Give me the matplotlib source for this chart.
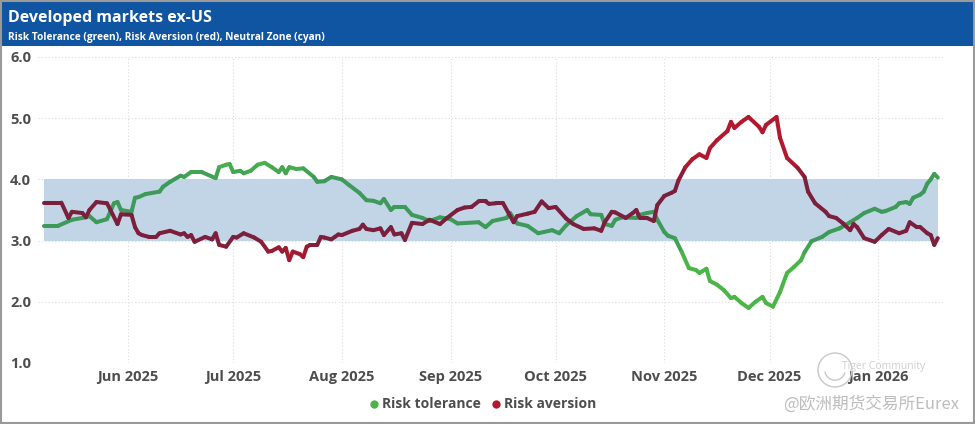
import numpy as np
import pandas as pd
import matplotlib
matplotlib.use("Agg")
import matplotlib.pyplot as plt
import matplotlib.dates as mdates
from matplotlib.collections import LineCollection
from matplotlib.lines import Line2D
from matplotlib.patches import Rectangle, Ellipse, Arc

plt.rcParams['font.family'] = ['Open Sans', 'DejaVu Sans']

# --- data ---
tol_dates = [
    "2025-05-08", "2025-05-12", "2025-05-16", "2025-05-19", "2025-05-21", "2025-05-23",
    "2025-05-26", "2025-05-28", "2025-05-29", "2025-05-30", "2025-06-02", "2025-06-03",
    "2025-06-04", "2025-06-06", "2025-06-10", "2025-06-11", "2025-06-13", "2025-06-16",
    "2025-06-17", "2025-06-19", "2025-06-22", "2025-06-26", "2025-06-27", "2025-06-29",
    "2025-06-30", "2025-07-01", "2025-07-03", "2025-07-04", "2025-07-06", "2025-07-08",
    "2025-07-10", "2025-07-12", "2025-07-14", "2025-07-15", "2025-07-16", "2025-07-17",
    "2025-07-19", "2025-07-21", "2025-07-24", "2025-07-25", "2025-07-27", "2025-07-29",
    "2025-08-01", "2025-08-03", "2025-08-06", "2025-08-08", "2025-08-10", "2025-08-12",
    "2025-08-13", "2025-08-15", "2025-08-16", "2025-08-19", "2025-08-21", "2025-08-24",
    "2025-08-26", "2025-08-29", "2025-09-01", "2025-09-03", "2025-09-09", "2025-09-11",
    "2025-09-13", "2025-09-17", "2025-09-18", "2025-09-20", "2025-09-23", "2025-09-26",
    "2025-09-30", "2025-10-02", "2025-10-04", "2025-10-07", "2025-10-10", "2025-10-11",
    "2025-10-14", "2025-10-15", "2025-10-17", "2025-10-18", "2025-10-20", "2025-10-24",
    "2025-10-25", "2025-10-27", "2025-10-29", "2025-10-30", "2025-11-01", "2025-11-02",
    "2025-11-04", "2025-11-06", "2025-11-08", "2025-11-10", "2025-11-11", "2025-11-13",
    "2025-11-14", "2025-11-16", "2025-11-18", "2025-11-20", "2025-11-21", "2025-11-23",
    "2025-11-25", "2025-11-27", "2025-11-29", "2025-11-30", "2025-12-02", "2025-12-04",
    "2025-12-06", "2025-12-08", "2025-12-10", "2025-12-11", "2025-12-13", "2025-12-16",
    "2025-12-18", "2025-12-21", "2025-12-24", "2025-12-26", "2025-12-28", "2025-12-31",
    "2026-01-02", "2026-01-03", "2026-01-06", "2026-01-07", "2026-01-09", "2026-01-10",
    "2026-01-11", "2026-01-13", "2026-01-14", "2026-01-15", "2026-01-16", "2026-01-17",
    "2026-01-18",
]
tol_values = [
    3.24, 3.24, 3.34, 3.37, 3.40, 3.30,
    3.35, 3.61, 3.63, 3.50, 3.47, 3.70,
    3.71, 3.76, 3.80, 3.88, 3.96, 4.06,
    4.04, 4.12, 4.12, 4.02, 4.20, 4.24,
    4.25, 4.12, 4.14, 4.10, 4.14, 4.24,
    4.27, 4.20, 4.12, 4.20, 4.10, 4.20,
    4.17, 4.18, 4.04, 3.96, 3.97, 4.04,
    4.00, 3.91, 3.78, 3.66, 3.65, 3.61,
    3.68, 3.50, 3.55, 3.55, 3.42, 3.37,
    3.32, 3.38, 3.35, 3.28, 3.30, 3.22,
    3.32, 3.37, 3.45, 3.28, 3.24, 3.12,
    3.17, 3.12, 3.25, 3.40, 3.50, 3.43,
    3.42, 3.27, 3.24, 3.34, 3.38, 3.37,
    3.42, 3.45, 3.47, 3.34, 3.14, 3.08,
    3.04, 2.81, 2.55, 2.52, 2.47, 2.54,
    2.34, 2.28, 2.19, 2.06, 2.08, 1.98,
    1.90, 2.00, 2.08, 1.98, 1.92, 2.16,
    2.47, 2.57, 2.68, 2.81, 2.99, 3.06,
    3.14, 3.20, 3.30, 3.37, 3.45, 3.52,
    3.47, 3.48, 3.55, 3.61, 3.63, 3.60,
    3.70, 3.75, 3.80, 3.93, 4.00, 4.09,
    4.03,
]

avr_dates = [
    "2025-05-08", "2025-05-13", "2025-05-15", "2025-05-16", "2025-05-19", "2025-05-20",
    "2025-05-21", "2025-05-23", "2025-05-26", "2025-05-27", "2025-05-29", "2025-05-30",
    "2025-06-02", "2025-06-03", "2025-06-04", "2025-06-05", "2025-06-07", "2025-06-09",
    "2025-06-10", "2025-06-13", "2025-06-16", "2025-06-17", "2025-06-18", "2025-06-19",
    "2025-06-20", "2025-06-23", "2025-06-25", "2025-06-26", "2025-06-27", "2025-06-29",
    "2025-07-01", "2025-07-02", "2025-07-04", "2025-07-07", "2025-07-09", "2025-07-11",
    "2025-07-12", "2025-07-14", "2025-07-15", "2025-07-16", "2025-07-17", "2025-07-18",
    "2025-07-20", "2025-07-21", "2025-07-22", "2025-07-23", "2025-07-25", "2025-07-26",
    "2025-07-27", "2025-07-29", "2025-07-30", "2025-07-31", "2025-08-01", "2025-08-04",
    "2025-08-06", "2025-08-07", "2025-08-08", "2025-08-10", "2025-08-12", "2025-08-13",
    "2025-08-15", "2025-08-16", "2025-08-18", "2025-08-19", "2025-08-21", "2025-08-24",
    "2025-08-26", "2025-08-29", "2025-08-31", "2025-09-03", "2025-09-05", "2025-09-07",
    "2025-09-09", "2025-09-11", "2025-09-12", "2025-09-14", "2025-09-16", "2025-09-19",
    "2025-09-20", "2025-09-23", "2025-09-25", "2025-09-27", "2025-09-29", "2025-10-01",
    "2025-10-04", "2025-10-06", "2025-10-09", "2025-10-12", "2025-10-14", "2025-10-15",
    "2025-10-17", "2025-10-18", "2025-10-21", "2025-10-23", "2025-10-24", "2025-10-25",
    "2025-10-27", "2025-10-29", "2025-10-30", "2025-11-01", "2025-11-03", "2025-11-04",
    "2025-11-05", "2025-11-07", "2025-11-09", "2025-11-11", "2025-11-13", "2025-11-14",
    "2025-11-16", "2025-11-19", "2025-11-20", "2025-11-21", "2025-11-23", "2025-11-25",
    "2025-11-28", "2025-11-29", "2025-11-30", "2025-12-03", "2025-12-04", "2025-12-06",
    "2025-12-09", "2025-12-11", "2025-12-12", "2025-12-14", "2025-12-17", "2025-12-18",
    "2025-12-20", "2025-12-22", "2025-12-24", "2025-12-25", "2025-12-26", "2025-12-28",
    "2025-12-31", "2026-01-02", "2026-01-04", "2026-01-07", "2026-01-09", "2026-01-10",
    "2026-01-12", "2026-01-13", "2026-01-15", "2026-01-16", "2026-01-17", "2026-01-18",
]
avr_values = [
    3.62, 3.62, 3.37, 3.47, 3.45, 3.38,
    3.50, 3.63, 3.61, 3.50, 3.27, 3.43,
    3.42, 3.22, 3.12, 3.09, 3.06, 3.06,
    3.12, 3.16, 3.10, 3.12, 3.06, 3.09,
    2.98, 3.06, 3.02, 3.12, 2.93, 2.90,
    3.06, 3.05, 3.12, 3.05, 2.98, 2.82,
    2.83, 2.89, 2.82, 2.88, 2.68, 2.82,
    2.78, 2.73, 2.90, 2.93, 2.93, 3.06,
    3.05, 3.02, 3.06, 3.10, 3.09, 3.16,
    3.19, 3.26, 3.19, 3.17, 3.20, 3.09,
    3.22, 3.10, 3.12, 3.01, 3.29, 3.27,
    3.34, 3.27, 3.37, 3.50, 3.54, 3.55,
    3.64, 3.64, 3.60, 3.61, 3.61, 3.30,
    3.40, 3.44, 3.47, 3.64, 3.53, 3.55,
    3.36, 3.27, 3.19, 3.20, 3.16, 3.30,
    3.47, 3.46, 3.37, 3.45, 3.50, 3.37,
    3.37, 3.32, 3.58, 3.73, 3.78, 3.81,
    3.98, 4.20, 4.33, 4.41, 4.35, 4.51,
    4.64, 4.79, 4.94, 4.84, 4.94, 5.02,
    4.86, 4.77, 4.89, 5.02, 4.68, 4.35,
    4.19, 4.04, 3.80, 3.61, 3.47, 3.40,
    3.37, 3.28, 3.17, 3.27, 3.22, 3.04,
    2.98, 3.09, 3.19, 3.12, 3.16, 3.30,
    3.22, 3.22, 3.12, 3.09, 2.93, 3.04,
]

zone_low, zone_high = 3.0, 4.0
y_ticks = [1.0, 2.0, 3.0, 4.0, 5.0, 6.0]
month_ticks = ["2025-06-01", "2025-07-01", "2025-08-01", "2025-09-01", "2025-10-01",
               "2025-11-01", "2025-12-01", "2026-01-01"]

GREEN_OUT, GREEN_IN = "#4cb548", "#3d9a59"
RED_OUT, RED_IN = "#b3192e", "#7c1f3c"
TEXT = "#4d4d4d"
W, H = 975, 424


def zone_line(ax, dates, values, c_out, c_in, z):
    # colour each segment darker inside the neutral zone, brighter outside
    x = mdates.date2num(pd.to_datetime(dates))
    y = np.asarray(values)
    pts = np.column_stack([x, y]).reshape(-1, 1, 2)
    segs = np.concatenate([pts[:-1], pts[1:]], axis=1)
    mid = (y[:-1] + y[1:]) / 2
    dist = np.maximum.reduce([zone_low - mid, mid - zone_high, np.zeros_like(mid)])
    t = np.clip(dist / 0.3, 0, 1)[:, None]
    cin = np.array(matplotlib.colors.to_rgb(c_in))
    cout = np.array(matplotlib.colors.to_rgb(c_out))
    cols = cin * (1 - t) + cout * t
    lc = LineCollection(segs, colors=cols, linewidths=2.9, capstyle="round",
                        joinstyle="round", zorder=z)
    ax.add_collection(lc)


fig = plt.figure(figsize=(W / 100, H / 100), dpi=100)
ax = fig.add_axes([0.039, 0.1439, 0.930, 0.7217])

# header
fig.patches.append(Rectangle((0, 0.891), 1, 0.109, transform=fig.transFigure,
                             facecolor="#0f55a1", edgecolor="none", zorder=0))
fig.patches.append(Rectangle((0.001, 0.002), 0.998, 0.996, transform=fig.transFigure,
                             facecolor="none", edgecolor="#9a9a9a", linewidth=1.5, zorder=5))
fig.text(0.008, 0.957, "Developed markets ex-US", color="white", fontsize=11.5,
         fontweight="bold", va="center", ha="left")
fig.text(0.008, 0.912, "Risk Tolerance (green), Risk Aversion (red), Neutral Zone (cyan)",
         color="white", fontsize=7.3, fontweight="bold", va="center", ha="left")

# neutral zone band
band_x = pd.to_datetime([tol_dates[0], tol_dates[-1]])
ax.fill_between(band_x, zone_low, zone_high, color="#c2d5e7", linewidth=0, zorder=1)

zone_line(ax, tol_dates, tol_values, GREEN_OUT, GREEN_IN, 3)
zone_line(ax, avr_dates, avr_values, RED_OUT, RED_IN, 4)

ax.set_xlim(pd.Timestamp("2025-05-06 08:00"), pd.Timestamp("2026-01-20"))
ax.set_ylim(1.0, 6.0)
ax.set_yticks(y_ticks)
ax.set_yticklabels([f"{v:.1f}" for v in y_ticks])
ax.set_xticks(pd.to_datetime(month_ticks))
ax.xaxis.set_major_formatter(mdates.DateFormatter("%b %Y"))
ax.grid(True, color="#dcdcdc", linestyle=(0, (1, 2)), linewidth=0.8, zorder=0)
ax.set_axisbelow(True)
for s in ax.spines.values():
    s.set_visible(False)
ax.tick_params(length=0, labelsize=10.5, labelcolor=TEXT)
ax.tick_params(axis="y", pad=5)
ax.tick_params(axis="x", pad=5)
for lab in ax.get_xticklabels() + ax.get_yticklabels():
    lab.set_fontweight("bold")

# legend
handles = [Line2D([], [], marker="o", linestyle="none", markersize=6,
                  markerfacecolor=GREEN_OUT, markeredgecolor="none", label="Risk tolerance"),
           Line2D([], [], marker="o", linestyle="none", markersize=6,
                  markerfacecolor=RED_OUT, markeredgecolor="none", label="Risk aversion")]
leg = fig.legend(handles=handles, loc="center", bbox_to_anchor=(0.494, 0.046), ncol=2,
                 frameon=False, handletextpad=0.05, columnspacing=0.6, handlelength=1.0,
                 prop={"weight": "bold", "size": 10})
for t in leg.get_texts():
    t.set_color(TEXT)

# watermark
cx, cy, r = 835 / W, 1 - 370 / H, 17
fig.patches.append(Ellipse((cx, cy), 2 * r / W, 2 * r / H, transform=fig.transFigure,
                           facecolor="none", edgecolor="#c8c8c8", linewidth=1.0, zorder=6))
fig.patches.append(Arc((cx, cy), 1.2 * r / W, 1.2 * r / H, theta1=200, theta2=330,
                       transform=fig.transFigure, edgecolor="#c8c8c8", linewidth=1.0, zorder=6))
fig.text(0.906, 1 - 366 / H, "Tiger Community", color="#cfcfcf", fontsize=7.5, ha="center",
         va="center", zorder=6)
fig.text(0.984, 0.047, "@欧洲期货交易所Eurex", color="#bdbdbd", fontsize=12, ha="right",
         va="center", family=["Noto Sans CJK SC", "DejaVu Sans"], zorder=6)

fig.savefig("out.png", dpi=100)
